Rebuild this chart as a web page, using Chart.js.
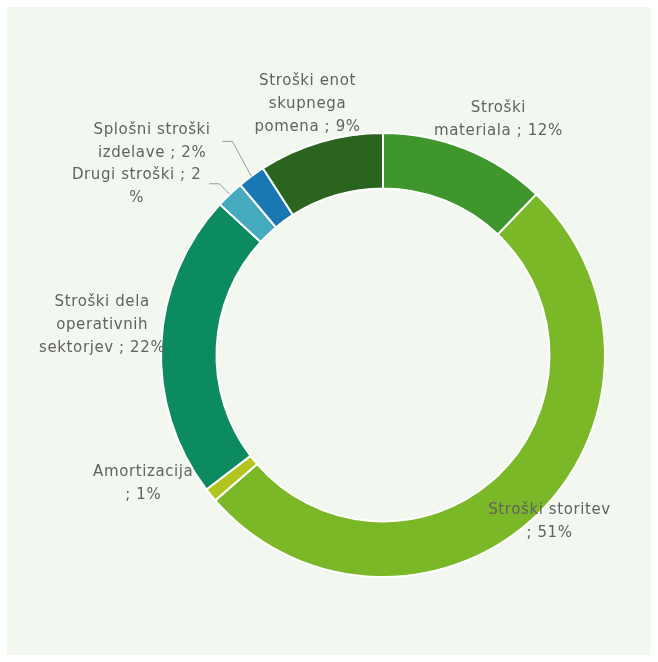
<!DOCTYPE html>
<html>
<head>
<meta charset="utf-8">
<script src="https://cdn.jsdelivr.net/npm/chart.js@4"></script>
<style>
  html, body { margin: 0; padding: 0; background: #ffffff; }
  #wrap { position: absolute; left: 7px; top: 7px; width: 644px; height: 648px; background: #f2f7f0; }
</style>
</head>
<body>
<div id="wrap"><canvas id="myChart"></canvas></div>
<script>
const categories = [
  'Stroški materiala',
  'Stroški storitev',
  'Amortizacija',
  'Stroški dela operativnih sektorjev',
  'Drugi stroški',
  'Splošni stroški izdelave',
  'Stroški enot skupnega pomena'
];
const shares = [12, 51, 1, 22, 2, 2, 9];

// how each label is broken into lines (text as on the picture)
const labelLines = [
  ['Stroški', 'materiala ; 12%'],
  ['Stroški storitev', '; 51%'],
  ['Amortizacija', '; 1%'],
  ['Stroški dela', 'operativnih', 'sektorjev ; 22%'],
  ['Drugi stroški ; 2', '%'],
  ['Splošni stroški', 'izdelave ; 2%'],
  ['Stroški enot', 'skupnega', 'pomena ; 9%']
];
// label centre, in units of the outer radius, relative to the centre
const labelPos = [
  [0.52, -1.06], [0.75, 0.75], [-1.08, 0.58], [-1.265, -0.135],
  [-1.11, -0.76], [-1.04, -0.96], [-0.34, -1.13]
];
const colors = ['#3e962d', '#7ab828', '#b2c41e', '#0c8a60', '#46aabe', '#1978b4', '#2a641e'];

const ctx = document.getElementById('myChart').getContext('2d');

const labelPlugin = {
  id: 'sliceLabels',
  afterDatasetsDraw(chart) {
    const {ctx} = chart;
    const arcs = chart.getDatasetMeta(0).data;
    const cx = arcs[0].x, cy = arcs[0].y, R = arcs[0].outerRadius;
    ctx.save();
    ctx.font = '15px "DejaVu Sans"';
    ctx.letterSpacing = '0.6px';
    ctx.fillStyle = '#626262';
    ctx.textAlign = 'center';
    ctx.textBaseline = 'middle';
    const lh = 23;
    labelLines.forEach((lines, i) => {
      const lx = cx + labelPos[i][0] * R;
      const ly = cy + labelPos[i][1] * R;
      const y0 = ly - (lines.length - 1) * lh / 2;
      lines.forEach((t, j) => ctx.fillText(t, lx, y0 + j * lh));
    });

    // leader lines for the two small slices at the top left
    ctx.strokeStyle = '#9a9a9a';
    ctx.lineWidth = 1;
    [[5, 1, -12, 16], [4, 0, 9, 8]].forEach(([i, line, dy, gap]) => {
      const a = arcs[i];
      const mid = (a.startAngle + a.endAngle) / 2;
      const ex = cx + Math.cos(mid) * R, ey = cy + Math.sin(mid) * R;
      const lines = labelLines[i];
      const lx = cx + labelPos[i][0] * R;
      const ly = cy + labelPos[i][1] * R;
      const y0 = ly - (lines.length - 1) * lh / 2;
      const sx = lx + ctx.measureText(lines[line]).width / 2 + gap;
      const sy = y0 + line * lh + dy;
      ctx.beginPath();
      ctx.moveTo(sx, sy);
      ctx.lineTo(sx + 10, sy);
      ctx.lineTo(ex, ey);
      ctx.stroke();
    });
    ctx.restore();
  }
};

const myChart = new Chart(ctx, {
  type: 'doughnut',
  data: {
    labels: categories,
    datasets: [{
      data: shares,
      backgroundColor: colors,
      borderColor: '#ffffff',
      borderWidth: 2
    }]
  },
  options: {
    responsive: true,
    maintainAspectRatio: false,
    animation: false,
    cutout: '75%',
    layout: {
      padding: { left: 153, right: 45, top: 125, bottom: 77 }
    },
    plugins: {
      legend: { display: false },
      tooltip: { enabled: false }
    }
  },
  plugins: [labelPlugin]
});
</script>
</body>
</html>
